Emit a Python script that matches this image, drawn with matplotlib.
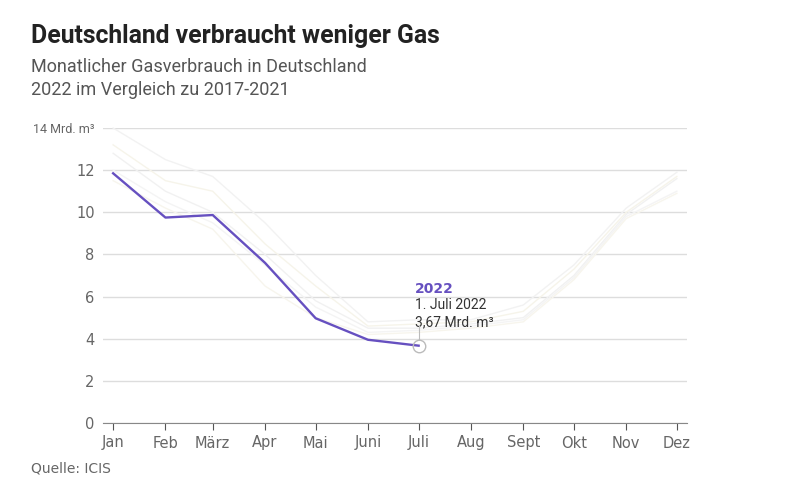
import matplotlib
matplotlib.use('Agg')
import matplotlib.pyplot as plt
import numpy as np
from datetime import date

months = ['Jan', 'Feb', 'März', 'Apr', 'Mai', 'Juni', 'Juli', 'Aug', 'Sept', 'Okt', 'Nov', 'Dez']
# Gasverbrauch 2022 (Mrd. m3), Jan bis Juli
gas_2022 = [11.85, 9.75, 9.87, 7.6, 4.97, 3.95, 3.67]
# Vergleichsjahre 2017-2021 (geschaetzt)
gas_2017 = [14.0, 12.5, 11.7, 9.5, 7.0, 4.8, 4.9, 4.9, 5.6, 7.5, 10.2, 11.9]
gas_2018 = [13.2, 11.5, 11.0, 8.5, 6.5, 4.6, 4.7, 4.8, 5.3, 7.3, 10.0, 11.7]
gas_2019 = [12.8, 11.0, 10.0, 8.0, 5.8, 4.5, 4.5, 4.7, 5.0, 7.0, 9.9, 11.6]
gas_2020 = [12.0, 10.5, 9.5, 7.5, 5.5, 4.3, 4.4, 4.6, 4.9, 6.9, 9.8, 11.0]
gas_2021 = [11.5, 10.2, 9.2, 6.5, 5.0, 4.2, 4.3, 4.5, 4.8, 6.8, 9.7, 10.9]
yticks = [0, 2, 4, 6, 8, 10, 12, 14]

# x positions: days since 1 Jan
xpos = np.array([(date(2022, m, 1) - date(2022, 1, 1)).days for m in range(1, 13)])

plt.rcParams['font.family'] = ['Liberation Sans Narrow', 'DejaVu Sans']
grey = '#666666'
purple = '#6650c0'

fig = plt.figure(figsize=(8.01, 4.93), dpi=100)
ax = fig.add_axes([103/801, 1-423/493, 584/801, 295/493])

bg_colors = ['#f2f2f2', '#f6f4ea', '#f1f1f1', '#f4f4f4', '#f7f5ed']
for vals, c in zip([gas_2017, gas_2018, gas_2019, gas_2020, gas_2021], bg_colors):
    ax.plot(xpos, vals, color=c, lw=1, clip_on=False, zorder=2)

ax.plot(xpos[:len(gas_2022)], gas_2022, color=purple, lw=1.7, zorder=4)
ax.plot(xpos[6], gas_2022[-1], 'o', ms=9, mfc='none', mec='#bbbbbb', mew=1, zorder=5)
ax.plot([xpos[6], xpos[6]], [gas_2022[-1] + 0.3, 4.6], color='#bbbbbb', lw=0.8, zorder=5)

ax.text(xpos[6] - 2, 6.35, '2022', color=purple, fontsize=10, fontweight='bold',
        family=['DejaVu Sans'], va='center')
ax.text(xpos[6] - 2, 5.6, '1. Juli 2022', color='#333333', fontsize=10, family=['Roboto'], va='center')
ax.text(xpos[6] - 2, 4.8, '3,67 Mrd. m³', color='#333333', fontsize=10, family=['Roboto'], va='center')

ax.set_xlim(-6, 340)
ax.set_ylim(0, 14)
ax.set_yticks(yticks)
ax.set_yticklabels([str(v) if v != 14 else '14 Mrd. m³' for v in yticks])
ax.grid(axis='y', color='#dddddd', lw=1)
ax.set_axisbelow(True)
ax.set_xticks(xpos)
ax.set_xticklabels(months)
for s in ['top', 'right', 'left']:
    ax.spines[s].set_visible(False)
ax.spines['bottom'].set_color('#888888')
ax.tick_params(axis='y', length=0, pad=6, labelsize=10.5, labelcolor=grey)
ax.tick_params(axis='x', length=5, color='#555555', pad=4, labelsize=10.5, labelcolor=grey)
ax.get_yticklabels()[-1].set_fontsize(9)
ax.get_yticklabels()[-1].set_family(['Roboto'])

fig.text(31/801, 1-36/493, 'Deutschland verbraucht weniger Gas', fontsize=17.8, fontweight='bold',
         color='#222222', family=['Roboto'], va='center')
fig.text(31/801, 1-67/493, 'Monatlicher Gasverbrauch in Deutschland', fontsize=13,
         color='#555555', family=['Roboto'], va='center')
fig.text(31/801, 1-90/493, '2022 im Vergleich zu 2017-2021', fontsize=13,
         color='#555555', family=['Roboto'], va='center')
fig.text(31/801, 1-468/493, 'Quelle: ICIS', fontsize=10, color=grey, va='center')

plt.savefig('out.png', dpi=100)
